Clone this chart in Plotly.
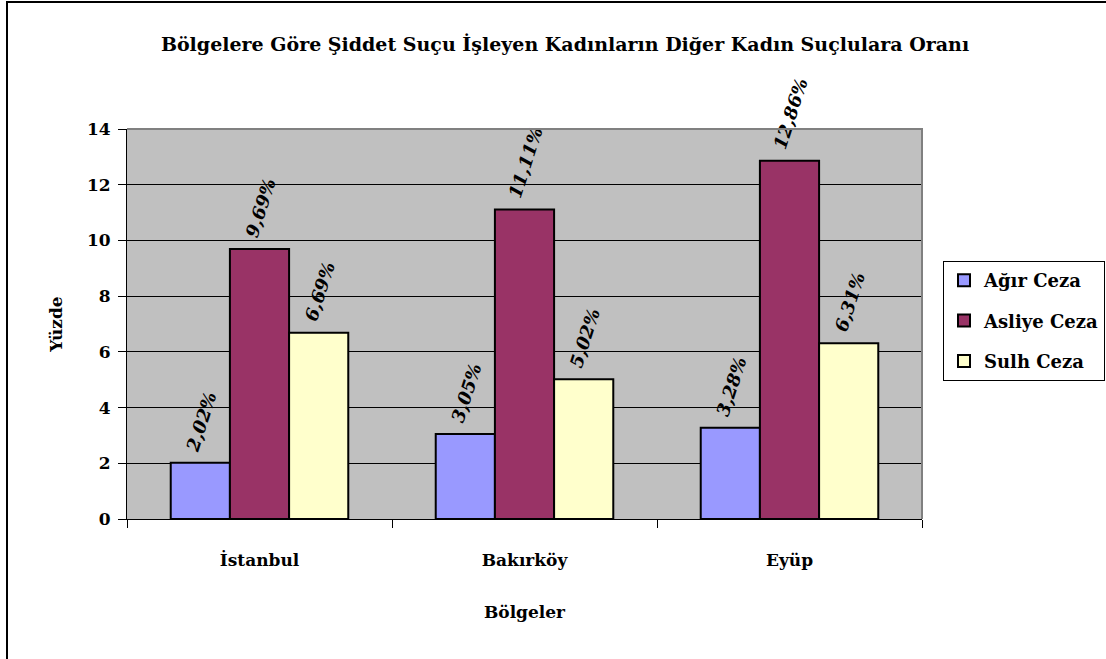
import plotly.graph_objects as go

# Data
regions = ["İstanbul", "Bakırköy", "Eyüp"]
agir_ceza = [2.02, 3.05, 3.28]
asliye_ceza = [9.69, 11.11, 12.86]
sulh_ceza = [6.69, 5.02, 6.31]

series = [
    ("Ağır Ceza", agir_ceza, "#9999FF"),
    ("Asliye Ceza", asliye_ceza, "#993366"),
    ("Sulh Ceza", sulh_ceza, "#FFFFCC"),
]

font_family = "DejaVu Serif, Liberation Serif, serif"

fig = go.Figure()
for name, vals, col in series:
    fig.add_trace(go.Bar(
        x=regions, y=vals, name=name, legendgroup=name,
        marker=dict(color=col, line=dict(color="black", width=2)),
        text=["\u00a0" + f"{v:.2f}%".replace(".", ",") for v in vals],
        textposition="outside",
        textangle=-72,
        constraintext="none",
        cliponaxis=False,
        textfont=dict(family=font_family, size=18, color="black", weight="bold", style="italic"),
    ))

fig.update_layout(
    width=1106, height=659,
    barmode="group", bargap=0.33, bargroupgap=0,
    paper_bgcolor="white", plot_bgcolor="#C0C0C0",
    margin=dict(l=127, r=184, t=129, b=140),
    font=dict(family=font_family, color="black"),
    title=dict(
        text="<b>Bölgelere Göre Şiddet Suçu İşleyen Kadınların Diğer Kadın Suçlulara Oranı</b>",
        x=565 / 1106, xanchor="center", y=0.932, yanchor="middle",
        font=dict(size=19, family=font_family),
    ),
    xaxis=dict(
        title=dict(text="<b>Bölgeler</b>", font=dict(size=17), standoff=36),
        tickfont=dict(size=17, weight="bold"),
        tickson="boundaries", ticks="outside", ticklen=8, tickcolor="black",
        ticklabelstandoff=26,
        showline=True, linecolor="black", linewidth=1,
        showgrid=False, mirror=False,
    ),
    yaxis=dict(
        title=dict(text="<b>Yüzde</b>", font=dict(size=17), standoff=19),
        range=[0, 14], dtick=2,
        tickfont=dict(size=17, weight="bold"),
        ticks="outside", ticklen=8, tickcolor="black",
        ticklabelstandoff=4,
        showline=True, linecolor="black", linewidth=1,
        gridcolor="black", gridwidth=1, zeroline=False,
    ),
    legend=dict(
        xref="container", yref="container",
        x=943 / 1106, xanchor="left", y=1 - 321 / 659, yanchor="middle",
        bordercolor="black", borderwidth=1, bgcolor="white",
        font=dict(size=18, weight="bold"),
        itemwidth=30, tracegroupgap=14,
    ),
    shapes=[
        # outer chart border
        dict(type="rect", xref="paper", yref="paper",
             x0=-120 / 795, x1=1.3, y0=-1.5, y1=517 / 390,
             line=dict(color="black", width=2), fillcolor="rgba(0,0,0,0)", layer="below"),
        # plot area border top/right
        dict(type="path", xref="paper", yref="paper",
             path="M 0 1 L 1 1 L 1 0",
             line=dict(color="#808080", width=2)),
    ],
)

fig.write_html("out.html", config={"displayModeBar": False},
               post_script="document.body.style.margin='0';")
